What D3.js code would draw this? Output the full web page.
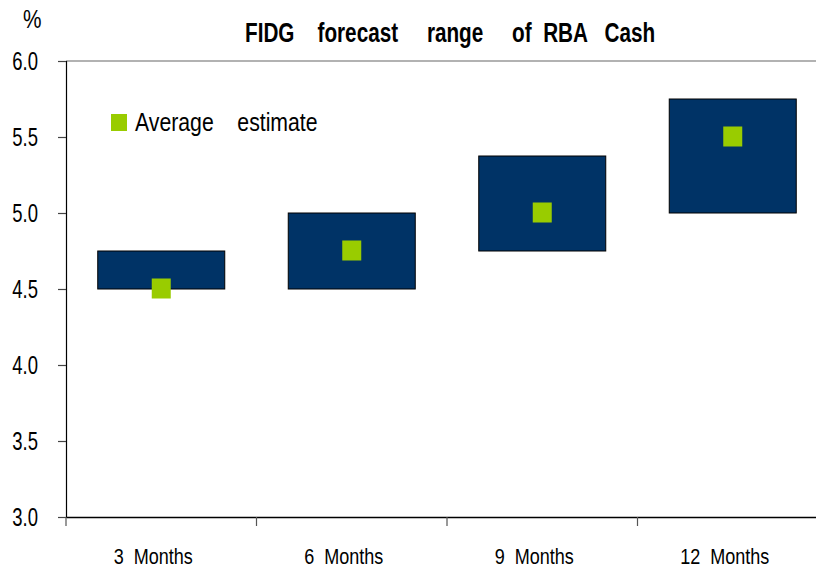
<!DOCTYPE html>
<html>
<head>
<meta charset="utf-8">
<script src="https://cdn.jsdelivr.net/npm/d3@7"></script>
<style>
  body { margin: 0; background: #fff; }
  text { font-family: "Liberation Sans", Arial, sans-serif; fill: #000; white-space: pre; }
</style>
</head>
<body>
<svg width="816" height="569"></svg>
<script>
// forecast horizons and ranges of the cash rate
let categories = ["3  Months", "6  Months", "9  Months", "12  Months"];
let lowValues = [4.5, 4.5, 4.75, 5.0];
let highValues = [4.75, 5.0, 5.375, 5.75];
let averageValues = [4.5, 4.75, 5.0, 5.5];
let yTicks = [3.0, 3.5, 4.0, 4.5, 5.0, 5.5, 6.0];

let svg = d3.select("svg");

// the original uses a condensed font, squeeze text horizontally
function squeeze(sel, sx) {
  sel.each(function() {
    let t = d3.select(this);
    let x0 = +t.attr("x") || 0;
    t.attr("x", x0 / sx).attr("transform", `scale(${sx},1)`);
  });
}

function label(x0, y0, sx, txt) {
  return svg.append("text")
    .attr("transform", `translate(${x0},${y0}) scale(${sx},1)`)
    .text(txt);
}

let x = d3.scaleBand()
  .domain(categories)
  .range([66, 828])
  .paddingInner(0)
  .paddingOuter(0);

let y = d3.scaleLinear()
  .domain([3, 6])
  .range([517, 61]);

// top gridline at 6.0
svg.append("line")
  .attr("x1", 66).attr("x2", 816)
  .attr("y1", y(6)).attr("y2", y(6))
  .attr("stroke", "#666")
  .attr("stroke-width", 1.2);

// y axis
let yAxis = svg.append("g")
  .attr("transform", "translate(66,0)")
  .call(d3.axisLeft(y).tickValues(yTicks).tickFormat(d3.format(".1f")).tickSize(8).tickPadding(20));
yAxis.select(".domain").attr("stroke", "#000").attr("stroke-width", 1.2);
yAxis.selectAll(".tick line").attr("stroke", "#444").attr("stroke-width", 1.2);
yAxis.selectAll("text").attr("font-size", 25).attr("font-family", null);
squeeze(yAxis.selectAll("text"), 0.74);

// x axis
let xAxis = svg.append("g")
  .attr("transform", "translate(0,517)")
  .call(d3.axisBottom(x).tickSize(0).tickPadding(31));
xAxis.select(".domain").attr("stroke", "#000").attr("stroke-width", 1.4);
xAxis.selectAll("text").attr("font-size", 22).attr("font-family", null).attr("x", -8);
squeeze(xAxis.selectAll("text"), 0.82);

// category boundary ticks
svg.append("g").selectAll("line")
  .data(categories)
  .join("line")
  .attr("x1", d => x(d)).attr("x2", d => x(d))
  .attr("y1", 517).attr("y2", 526)
  .attr("stroke", "#555")
  .attr("stroke-width", 1.2);

// range boxes
let boxWidth = x.bandwidth() * 2 / 3;
svg.append("g").selectAll("rect")
  .data(categories)
  .join("rect")
  .attr("x", d => x(d) + x.bandwidth() / 2 - boxWidth / 2)
  .attr("width", boxWidth)
  .attr("y", (d, i) => y(highValues[i]))
  .attr("height", (d, i) => y(lowValues[i]) - y(highValues[i]))
  .attr("fill", "#003366")
  .attr("stroke", "#000")
  .attr("stroke-width", 1);

// average markers
svg.append("g").selectAll("rect")
  .data(categories)
  .join("rect")
  .attr("x", d => x(d) + x.bandwidth() / 2 - 9.5)
  .attr("y", (d, i) => y(averageValues[i]) - 10.5)
  .attr("width", 19)
  .attr("height", 20)
  .attr("fill", "#99cc00");

// legend
svg.append("rect")
  .attr("x", 111).attr("y", 114)
  .attr("width", 16).attr("height", 17)
  .attr("fill", "#99cc00");
label(135, 131, 0.85, "Average    estimate").attr("font-size", 25);

// title and unit
label(245, 42, 0.74, "FIDG    forecast     range     of  RBA   Cash")
  .attr("font-size", 28)
  .attr("font-weight", "bold");

label(23, 28, 0.8, "%").attr("font-size", 26);
</script>
</body>
</html>
